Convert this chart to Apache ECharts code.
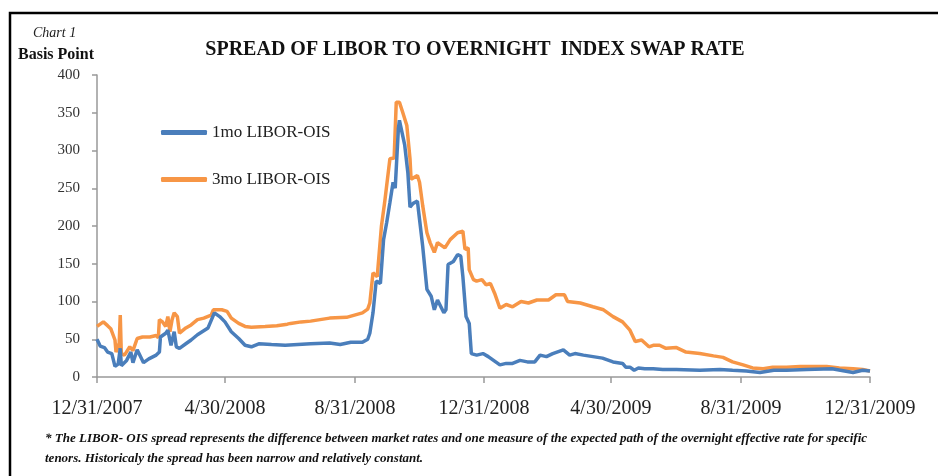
<!DOCTYPE html>
<html>
<head>
<meta charset="utf-8">
<script src="https://cdn.jsdelivr.net/npm/echarts@6/dist/echarts.min.js"></script>
<style>
  html, body { margin: 0; padding: 0; background: #fff; }
  #chart { width: 938px; height: 476px; }
</style>
</head>
<body>
<div id="chart"></div>
<script>
// days after 12/31/2007, basis points
const oneMonth = [
  [0, 50], [3, 41], [7, 39], [10, 33], [14, 31], [17, 14], [20, 17], [22, 38], [23, 15], [28, 22],
  [32, 33], [34, 19], [38, 36], [44, 19], [49, 24], [56, 29], [59, 33], [60, 53], [65, 58], [67, 62],
  [70, 42], [73, 60], [75, 40], [78, 38], [84, 44], [89, 49], [95, 56], [105, 65], [111, 85], [116, 80],
  [121, 73], [127, 60], [134, 51], [140, 42], [146, 40], [153, 44], [165, 43], [178, 42], [190, 43], [202, 44],
  [220, 45], [230, 43], [240, 46], [251, 46], [256, 50], [258, 58], [261, 85], [264, 127], [268, 124], [271, 182],
  [274, 205], [277, 231], [280, 258], [282, 250], [285, 329], [286, 340], [291, 307], [294, 270], [296, 225], [299, 230],
  [303, 233], [305, 209], [308, 173], [312, 116], [316, 107], [319, 89], [322, 102], [328, 85], [330, 89], [332, 149],
  [337, 153], [341, 162], [344, 160], [346, 133], [349, 80], [352, 71], [354, 31], [359, 29], [365, 31], [370, 27],
  [375, 22], [381, 16], [387, 18], [393, 18], [400, 22], [407, 20], [414, 20], [419, 29], [425, 27], [431, 31],
  [441, 36], [447, 29], [452, 31], [460, 29], [469, 27], [478, 25], [488, 20], [497, 18], [500, 13], [504, 13],
  [508, 9], [512, 12], [518, 11], [526, 11], [535, 10], [548, 10], [570, 9], [589, 10], [601, 9], [614, 8],
  [627, 6], [640, 9], [652, 9], [671, 10], [695, 11], [715, 6], [724, 9], [731, 8]
];
const threeMonth = [
  [0, 67], [6, 73], [10, 68], [13, 64], [17, 49], [18, 33], [21, 45], [22, 82], [23, 31], [26, 29],
  [31, 40], [34, 35], [38, 51], [43, 53], [50, 53], [56, 55], [58, 52], [59, 76], [62, 73], [65, 67],
  [67, 80], [69, 60], [71, 76], [73, 85], [76, 80], [78, 58], [84, 65], [89, 69], [95, 76], [101, 78],
  [108, 82], [110, 89], [118, 89], [123, 87], [127, 78], [134, 71], [140, 67], [146, 66], [159, 67], [170, 68],
  [180, 70], [183, 71], [193, 73], [202, 74], [220, 78], [236, 79], [251, 85], [256, 90], [258, 98], [261, 138],
  [265, 133], [269, 200], [272, 231], [277, 289], [281, 290], [283, 364], [286, 364], [289, 351], [293, 333], [296, 289],
  [297, 262], [303, 267], [305, 258], [308, 227], [312, 191], [315, 178], [319, 165], [322, 178], [329, 171], [334, 182],
  [341, 191], [346, 193], [348, 169], [351, 171], [352, 142], [356, 129], [359, 127], [364, 129], [368, 122], [372, 124],
  [376, 111], [381, 91], [387, 96], [393, 93], [401, 100], [408, 98], [416, 102], [427, 102], [434, 109], [442, 109],
  [445, 100], [457, 98], [469, 93], [479, 89], [488, 80], [497, 73], [504, 62], [509, 47], [515, 49], [522, 40],
  [526, 42], [532, 42], [538, 38], [548, 39], [557, 33], [570, 31], [583, 28], [592, 26], [601, 20], [611, 16],
  [620, 12], [630, 11], [639, 13], [652, 13], [665, 14], [677, 14], [690, 14], [702, 12], [715, 11], [724, 10],
  [731, 8]
];
const tickDates = ['2007-12-31', '2008-04-30', '2008-08-31', '2008-12-31', '2009-04-30', '2009-08-31', '2009-12-31'];
const tickLabels = ['12/31/2007', '4/30/2008', '8/31/2008', '12/31/2008', '4/30/2009', '8/31/2009', '12/31/2009'];
const seriesNames = ['1mo LIBOR-OIS', '3mo LIBOR-OIS'];

const DAY = 86400000;
const start = Date.parse(tickDates[0]);
const tickDays = tickDates.map(d => Math.round((Date.parse(d) - start) / DAY));

const serif = '"Liberation Serif", "DejaVu Serif", serif';
const chart = echarts.init(document.getElementById('chart'), null, { renderer: 'canvas' });

chart.setOption({
  animation: false,
  color: ['#4a7ebb', '#f79646'],
  grid: { left: 97, right: 68, top: 75, bottom: 99 },
  title: {
    text: 'SPREAD OF LIBOR TO OVERNIGHT  INDEX SWAP RATE',
    left: 470, top: 35, textAlign: 'center',
    textStyle: { fontFamily: serif, fontSize: 20, fontWeight: 'bold', color: '#111' }
  },
  legend: {
    orient: 'vertical', left: 156, top: 119, itemGap: 30,
    itemWidth: 46, itemHeight: 5, icon: 'roundRect',
    textStyle: { fontFamily: serif, fontSize: 17, color: '#222' },
    data: seriesNames
  },
  xAxis: {
    type: 'value',
    min: 0, max: tickDays[tickDays.length - 1],
    splitLine: { show: false },
    axisLine: { lineStyle: { color: '#999', width: 1.5 } },
    axisTick: { show: true, length: 6, customValues: tickDays, lineStyle: { color: '#999', width: 1.5 } },
    axisLabel: {
      customValues: tickDays, margin: 22,
      fontFamily: serif, fontSize: 20, color: '#222',
      formatter: v => tickLabels[tickDays.indexOf(v)]
    }
  },
  yAxis: {
    type: 'value', min: 0, max: 400, interval: 50,
    splitLine: { show: false },
    axisLine: { show: true, lineStyle: { color: '#999', width: 1.5 } },
    axisTick: { show: true, inside: false, length: 5, lineStyle: { color: '#999', width: 1.5 } },
    axisLabel: { margin: 17, fontFamily: serif, fontSize: 15, color: '#333' }
  },
  series: [
    { name: seriesNames[0], type: 'line', showSymbol: false, data: oneMonth, lineStyle: { width: 3.5 }, z: 3 },
    { name: seriesNames[1], type: 'line', showSymbol: false, data: threeMonth, lineStyle: { width: 3.5 }, z: 2 }
  ],
  graphic: [
    { type: 'polyline', shape: { points: [[10, 476], [10, 13], [938, 13]] }, style: { stroke: '#000', lineWidth: 2.5, fill: null } },
    { type: 'text', left: 33, top: 26, style: { text: 'Chart 1', font: 'italic 14px ' + serif, fill: '#222' } },
    { type: 'text', left: 18, top: 47, style: { text: 'Basis Point', font: 'bold 16px ' + serif, fill: '#111' } },
    { type: 'text', left: 45, top: 429, style: {
      text: '* The LIBOR- OIS spread represents the difference between market rates and one measure of the expected path of the overnight effective rate for specific\ntenors. Historicaly the spread has been narrow and relatively constant.',
      font: 'italic bold 13px ' + serif, fill: '#111', lineHeight: 20 } }
  ]
});
</script>
</body>
</html>
